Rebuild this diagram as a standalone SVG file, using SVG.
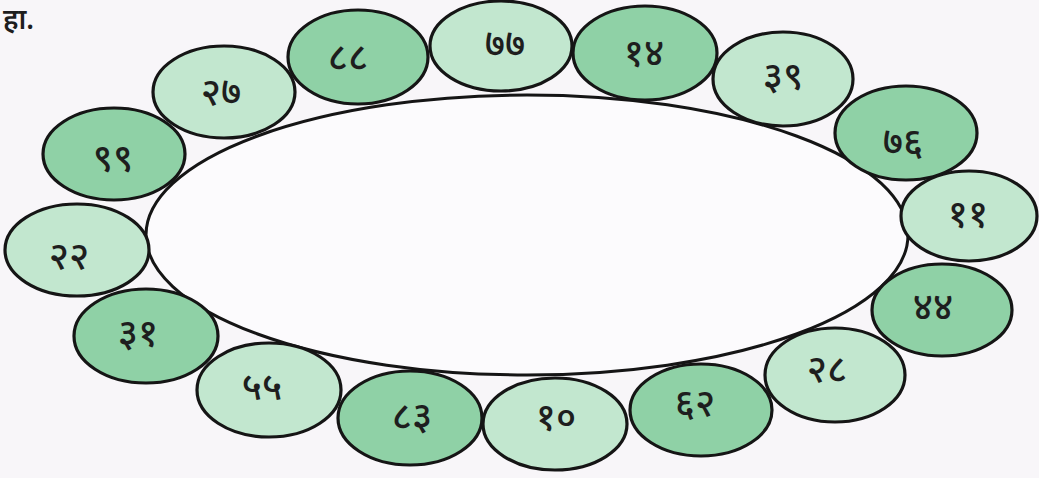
<svg xmlns="http://www.w3.org/2000/svg" width="1039" height="478" viewBox="0 0 1039 478">
<style>
.bg{fill:#f8f6f9}
.big{fill:#fcfbfd;stroke:#151515;stroke-width:3}
.d{fill:#8fd1a6;stroke:#151515;stroke-width:3.2}
.l{fill:#c2e7cf;stroke:#151515;stroke-width:3.2}
.t{font-family:"Noto Sans","Noto Sans Devanagari","DejaVu Sans",sans-serif;font-size:38px;font-weight:500;fill:#1e1e1e;text-anchor:middle}
.h{font-family:"Noto Sans","Noto Sans Devanagari","DejaVu Sans",sans-serif;font-size:28px;font-weight:600;fill:#1e1e1e}
</style>
<rect class="bg" x="0" y="0" width="1039" height="478"/>
<text class="h" x="3" y="29">हा.</text>
<g id="centre"><ellipse class="big" cx="527" cy="235" rx="381" ry="140"/></g>
<g id="n99"><ellipse class="d" cx="114" cy="154" rx="71" ry="46"/><text class="t" x="113" y="171">९९</text></g>
<g id="n27"><ellipse class="l" cx="224" cy="92" rx="71" ry="46"/><text class="t" x="221" y="105">२७</text></g>
<g id="n88"><ellipse class="d" cx="358" cy="57" rx="70" ry="47"/><text class="t" x="348" y="70">८८</text></g>
<g id="n77"><ellipse class="l" cx="501" cy="46" rx="71" ry="45"/><text class="t" x="505" y="57">७७</text></g>
<g id="n14"><ellipse class="d" cx="645" cy="53" rx="72" ry="47"/><text class="t" x="644" y="66">१४</text></g>
<g id="n39"><ellipse class="l" cx="783" cy="79" rx="70" ry="47"/><text class="t" x="783" y="89">३९</text></g>
<g id="n76"><ellipse class="d" cx="906" cy="133" rx="71" ry="47"/><text class="t" x="903" y="155">७६</text></g>
<g id="n11"><ellipse class="l" cx="969" cy="216" rx="68" ry="45"/><text class="t" x="968" y="227">११</text></g>
<g id="n44"><ellipse class="d" cx="942" cy="310" rx="70" ry="46"/><text class="t" x="933" y="320">४४</text></g>
<g id="n28"><ellipse class="l" cx="835" cy="375" rx="70" ry="47"/><text class="t" x="827" y="382">२८</text></g>
<g id="n62"><ellipse class="d" cx="701" cy="410" rx="71" ry="46"/><text class="t" x="695" y="416">६२</text></g>
<g id="n10"><ellipse class="l" cx="555" cy="424" rx="72" ry="46"/><text class="t" x="556" y="430">१०</text></g>
<g id="n83"><ellipse class="d" cx="410" cy="418" rx="72" ry="47"/><text class="t" x="412" y="429">८३</text></g>
<g id="n55"><ellipse class="l" cx="269" cy="390" rx="72" ry="47"/><text class="t" x="262" y="400">५५</text></g>
<g id="n31"><ellipse class="d" cx="146" cy="336" rx="72" ry="47"/><text class="t" x="138" y="346">३१</text></g>
<g id="n22"><ellipse class="l" cx="77" cy="250" rx="72" ry="46"/><text class="t" x="69" y="269">२२</text></g>
<g id="connectors"></g>
</svg>
